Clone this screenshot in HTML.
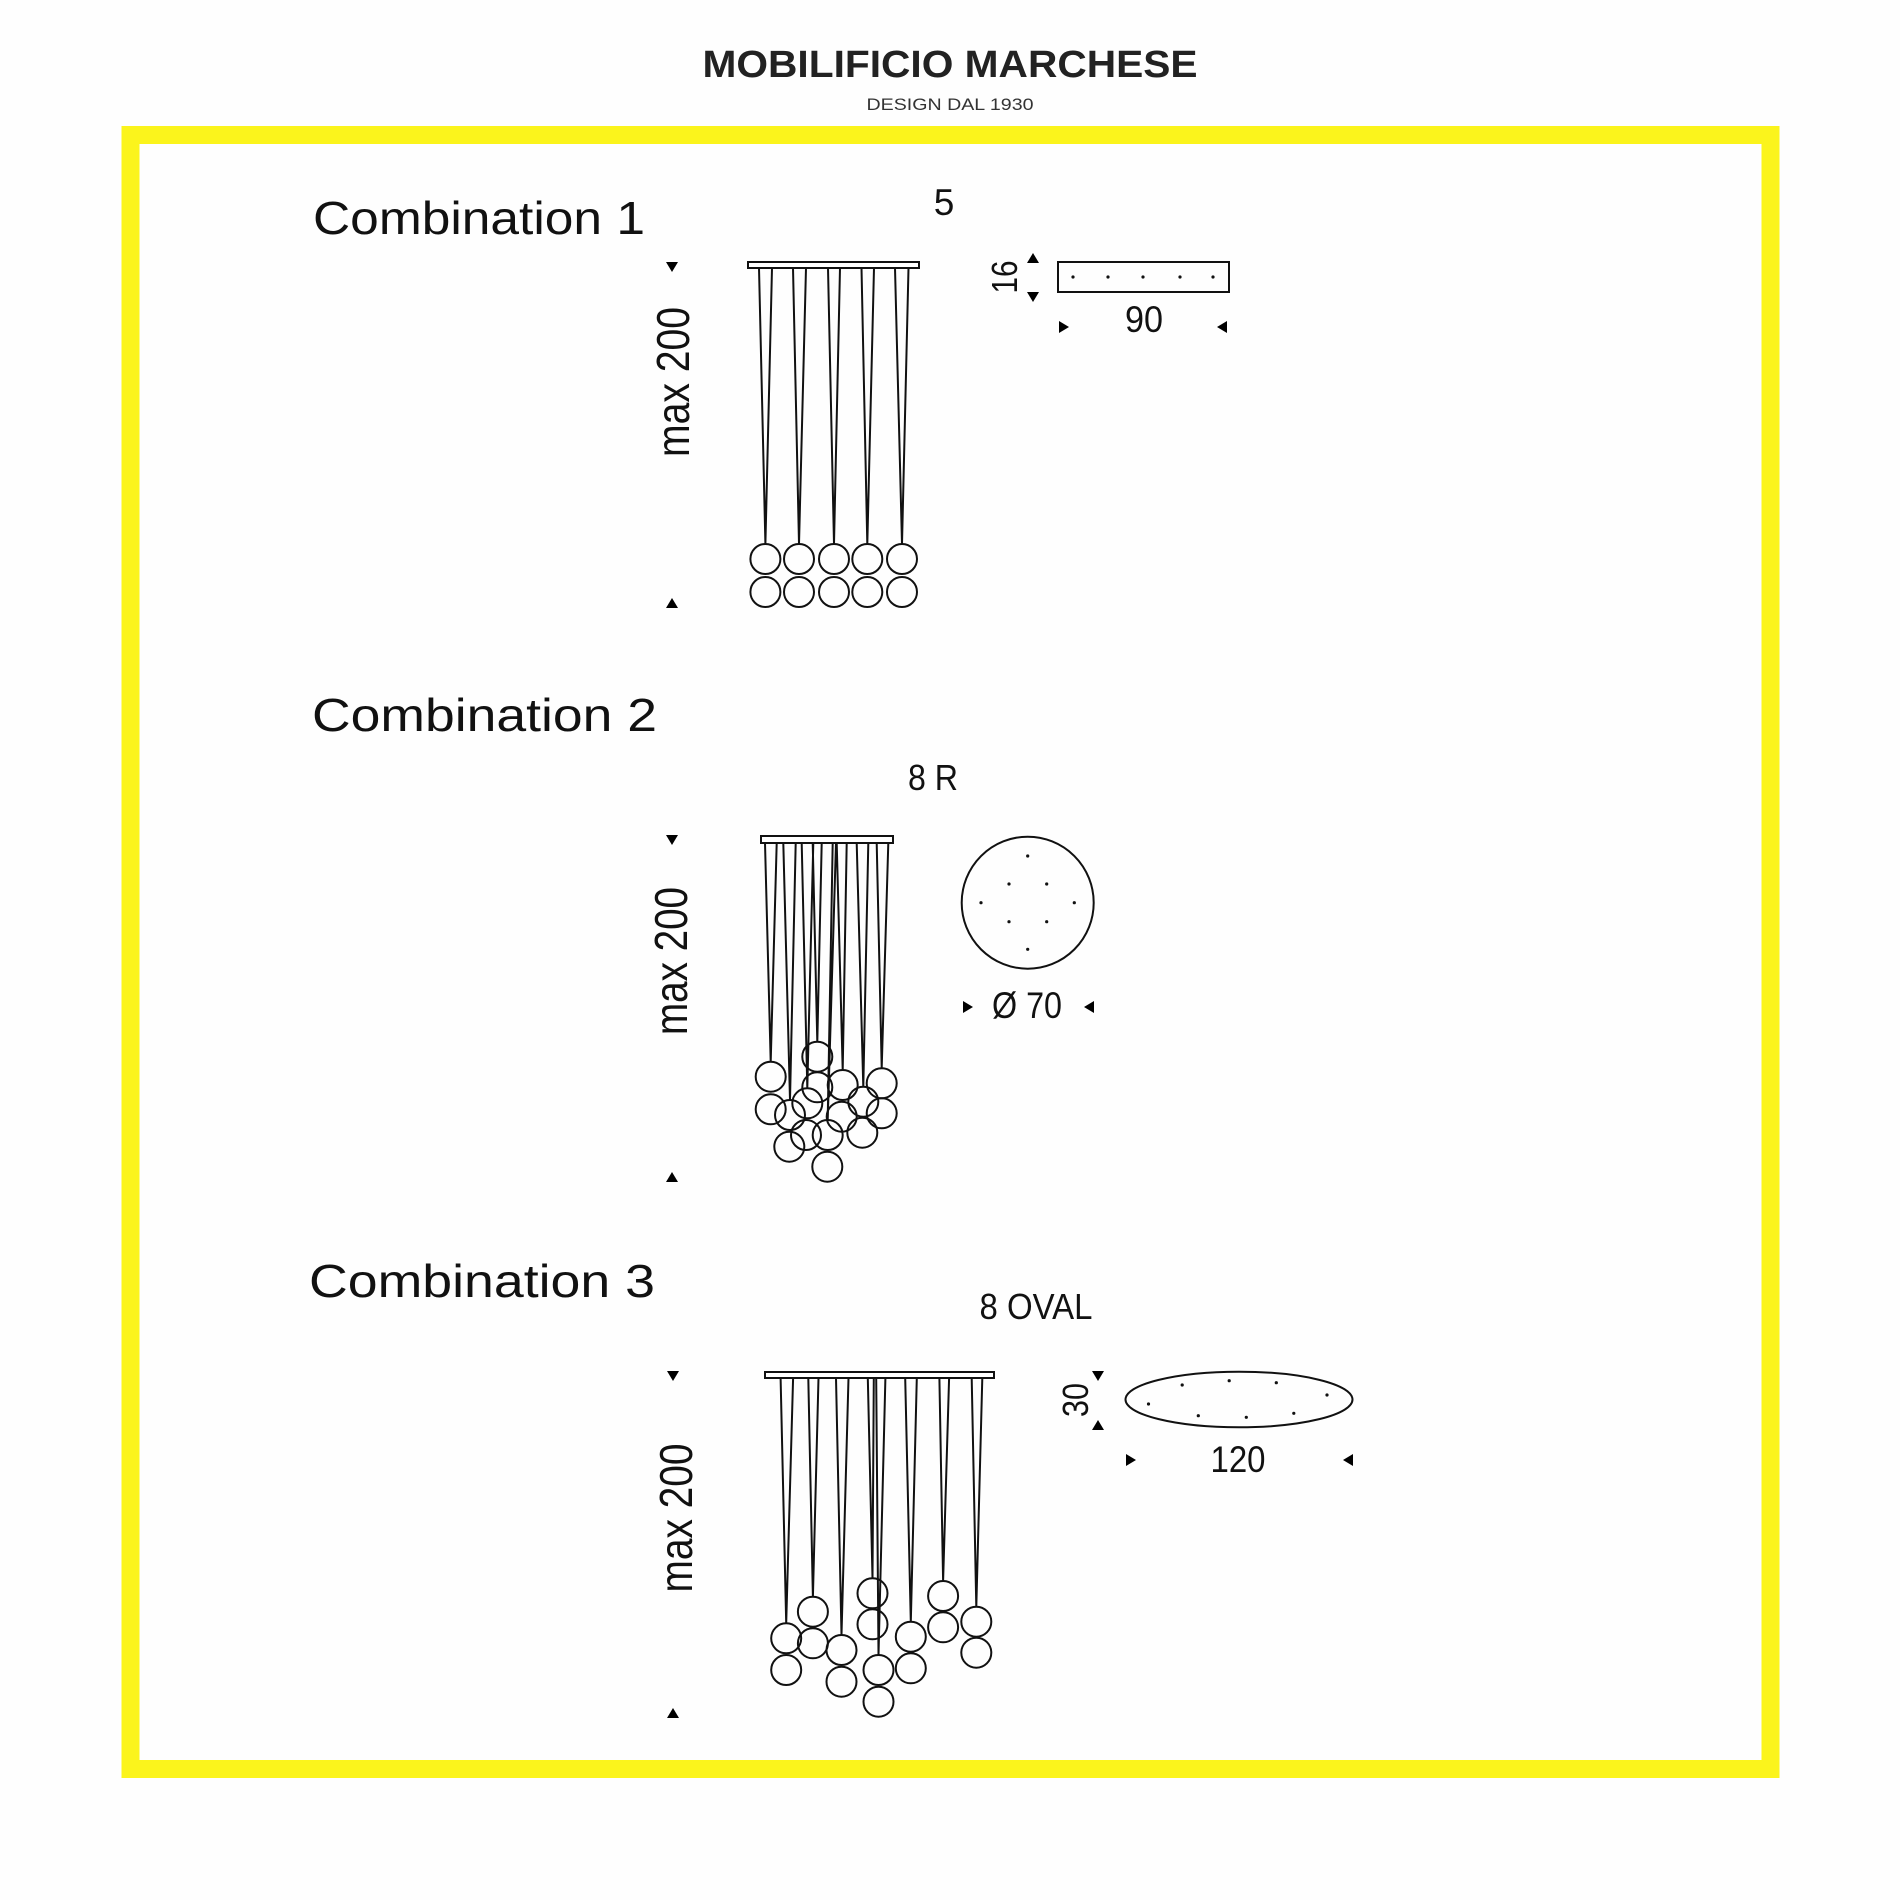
<!DOCTYPE html>
<html><head><meta charset="utf-8"><style>
html,body{margin:0;padding:0;background:#fff;}
svg{display:block;}
</style></head><body>
<svg width="1900" height="1900" viewBox="0 0 1900 1900" xmlns="http://www.w3.org/2000/svg">
<rect width="1900" height="1900" fill="#fefefe"/>
<text x="950" y="77" text-anchor="middle" font-family="Liberation Sans, sans-serif" font-weight="bold" font-size="38" fill="#222" textLength="495" lengthAdjust="spacingAndGlyphs">MOBILIFICIO MARCHESE</text>
<text x="950" y="110" text-anchor="middle" font-family="Liberation Sans, sans-serif" font-size="17" fill="#333" textLength="167" lengthAdjust="spacingAndGlyphs">DESIGN DAL 1930</text>
<rect x="130.5" y="135" width="1640" height="1634" fill="none" stroke="#fbf41c" stroke-width="18"/>

<g font-family="Liberation Sans, sans-serif" fill="#111">
<text x="313" y="234" font-size="46" textLength="332" lengthAdjust="spacingAndGlyphs">Combination 1</text>
<text x="312" y="731" font-size="46" textLength="345" lengthAdjust="spacingAndGlyphs">Combination 2</text>
<text x="309" y="1297" font-size="46" textLength="346" lengthAdjust="spacingAndGlyphs">Combination 3</text>
</g>

<g font-family="Liberation Sans, sans-serif" fill="#111">
<text x="944" y="215" font-size="37" text-anchor="middle">5</text>
<text x="933" y="790" font-size="36" text-anchor="middle" textLength="50" lengthAdjust="spacingAndGlyphs">8 R</text>
<text x="1036" y="1319" font-size="36" text-anchor="middle" textLength="113" lengthAdjust="spacingAndGlyphs">8 OVAL</text>
<text x="1144" y="332" font-size="37" text-anchor="middle" textLength="38" lengthAdjust="spacingAndGlyphs">90</text>
<text x="1027" y="1018" font-size="37" text-anchor="middle" textLength="70" lengthAdjust="spacingAndGlyphs">Ø 70</text>
<text x="1238" y="1472" font-size="37" text-anchor="middle" textLength="55" lengthAdjust="spacingAndGlyphs">120</text>
<text transform="translate(1017,277) rotate(-90)" font-size="36" text-anchor="middle" textLength="33" lengthAdjust="spacingAndGlyphs">16</text>
<text transform="translate(1088,1400) rotate(-90)" font-size="36" text-anchor="middle" textLength="34" lengthAdjust="spacingAndGlyphs">30</text>
<text transform="translate(689,382) rotate(-90)" font-size="46" text-anchor="middle" textLength="150" lengthAdjust="spacingAndGlyphs">max 200</text>
<text transform="translate(687,961) rotate(-90)" font-size="46" text-anchor="middle" textLength="148" lengthAdjust="spacingAndGlyphs">max 200</text>
<text transform="translate(692,1518) rotate(-90)" font-size="46" text-anchor="middle" textLength="149" lengthAdjust="spacingAndGlyphs">max 200</text>
</g>

<g fill="#000">
<polygon points="666,262 678,262 672,272"/><polygon points="666,608 678,608 672,598"/>
<polygon points="666,835 678,835 672,845"/><polygon points="666,1182 678,1182 672,1172"/>
<polygon points="667,1371 679,1371 673,1381"/><polygon points="667,1718 679,1718 673,1708"/>
<polygon points="1027,263 1039,263 1033,253"/><polygon points="1027,292 1039,292 1033,302"/>
<polygon points="1059,321 1059,333 1069,327"/><polygon points="1227,321 1227,333 1217,327"/>
<polygon points="963,1001 963,1013 973,1007"/><polygon points="1094,1001 1094,1013 1084,1007"/>
<polygon points="1092,1371 1104,1371 1098,1381"/><polygon points="1092,1430 1104,1430 1098,1420"/>
<polygon points="1126,1454 1126,1466 1136,1460"/><polygon points="1353,1454 1353,1466 1343,1460"/>
</g>

<g fill="none" stroke="#111" stroke-width="2">
<rect x="748" y="262" width="171" height="6" fill="#fff"/>
<path d="M759,268 L765.4,544 L772,268 M793,268 L799,544 L806,268 M828,268 L834,544 L840,268 M861.5,268 L867.3,544 L874,268 M895,268 L902,544 L908.5,268"/>
<circle cx="765.4" cy="559" r="15"/><circle cx="799" cy="559" r="15"/><circle cx="834" cy="559" r="15"/><circle cx="867.3" cy="559" r="15"/><circle cx="902" cy="559" r="15"/>
<circle cx="765.4" cy="592" r="15"/><circle cx="799" cy="592" r="15"/><circle cx="834" cy="592" r="15"/><circle cx="867.3" cy="592" r="15"/><circle cx="902" cy="592" r="15"/>
<rect x="1058" y="262" width="171" height="30"/>

<rect x="761" y="836" width="132" height="7" fill="#fff"/>
<path d="M765,843 L770.7,1062 L776.7,843 M783.3,843 L790,1100 L795.7,843 M801.7,843 L807.3,1088 L813.3,843 M812.7,843 L817.3,1042 L821.7,843 M832.7,843 L827.7,1120 L836,843 M836.7,843 L842.7,1070 L846.7,843 M856.7,843 L863.3,1087 L868.3,843 M876.7,843 L881.7,1068 L888.3,843"/>
<circle cx="770.7" cy="1076.7" r="15"/><circle cx="770.7" cy="1109.3" r="15"/>
<circle cx="817.3" cy="1056.7" r="15"/><circle cx="817.3" cy="1087.3" r="15"/>
<circle cx="842.7" cy="1085" r="15"/><circle cx="841.7" cy="1116.7" r="15"/>
<circle cx="881.7" cy="1083.3" r="15"/><circle cx="881.7" cy="1113.3" r="15"/>
<circle cx="863.3" cy="1101.7" r="15"/><circle cx="862.3" cy="1132.7" r="15"/>
<circle cx="807.3" cy="1103.3" r="15"/><circle cx="806" cy="1135" r="15"/>
<circle cx="790" cy="1115" r="15"/><circle cx="789.3" cy="1146.7" r="15"/>
<circle cx="827.7" cy="1135" r="15"/><circle cx="827.3" cy="1166.7" r="15"/>
<circle cx="1027.7" cy="902.7" r="66"/>

<rect x="765" y="1372" width="229" height="6" fill="#fff"/>
<path d="M780.6,1378 L786.2,1623 L793.1,1378 M808.3,1378 L812.9,1597 L818.5,1378 M836,1378 L841.5,1635 L848.5,1378 M867.8,1378 L872.5,1578 L873.8,1378 M876.2,1378 L878.5,1655 L885.4,1378 M905.2,1378 L910.8,1622 L916.8,1378 M939.4,1378 L943.1,1581 L949.1,1378 M971.7,1378 L976.3,1607 L982.3,1378"/>
<circle cx="786.2" cy="1638.3" r="15"/><circle cx="786.2" cy="1670" r="15"/>
<circle cx="812.9" cy="1611.7" r="15"/><circle cx="812.9" cy="1643.3" r="15"/>
<circle cx="841.5" cy="1650" r="15"/><circle cx="841.5" cy="1681.7" r="15"/>
<circle cx="872.5" cy="1593.3" r="15"/><circle cx="872.5" cy="1624.3" r="15"/>
<circle cx="878.5" cy="1670" r="15"/><circle cx="878.5" cy="1701.7" r="15"/>
<circle cx="910.8" cy="1636.7" r="15"/><circle cx="910.8" cy="1668.3" r="15"/>
<circle cx="943.1" cy="1596" r="15"/><circle cx="943.1" cy="1627.3" r="15"/>
<circle cx="976.3" cy="1621.7" r="15"/><circle cx="976.3" cy="1652.7" r="15"/>
<ellipse cx="1239" cy="1399.5" rx="113.5" ry="27.8"/>
</g>

<g fill="#111">
<circle cx="1073" cy="277" r="1.6"/><circle cx="1108" cy="277" r="1.6"/><circle cx="1143" cy="277" r="1.6"/><circle cx="1180" cy="277" r="1.6"/><circle cx="1213" cy="277" r="1.6"/>
<circle cx="1027.7" cy="856" r="1.6"/><circle cx="1009" cy="884" r="1.6"/><circle cx="1046.7" cy="884" r="1.6"/><circle cx="981" cy="902.7" r="1.6"/><circle cx="1074.3" cy="902.7" r="1.6"/><circle cx="1009" cy="921.7" r="1.6"/><circle cx="1046.7" cy="921.7" r="1.6"/><circle cx="1027.7" cy="949.3" r="1.6"/>
<circle cx="1182.2" cy="1385" r="1.6"/><circle cx="1229.2" cy="1380.7" r="1.6"/><circle cx="1276.3" cy="1382.7" r="1.6"/><circle cx="1327" cy="1395" r="1.6"/><circle cx="1148.5" cy="1404" r="1.6"/><circle cx="1198.3" cy="1415.7" r="1.6"/><circle cx="1246.3" cy="1417.3" r="1.6"/><circle cx="1293.8" cy="1413.3" r="1.6"/>
</g>
</svg>
</body></html>
